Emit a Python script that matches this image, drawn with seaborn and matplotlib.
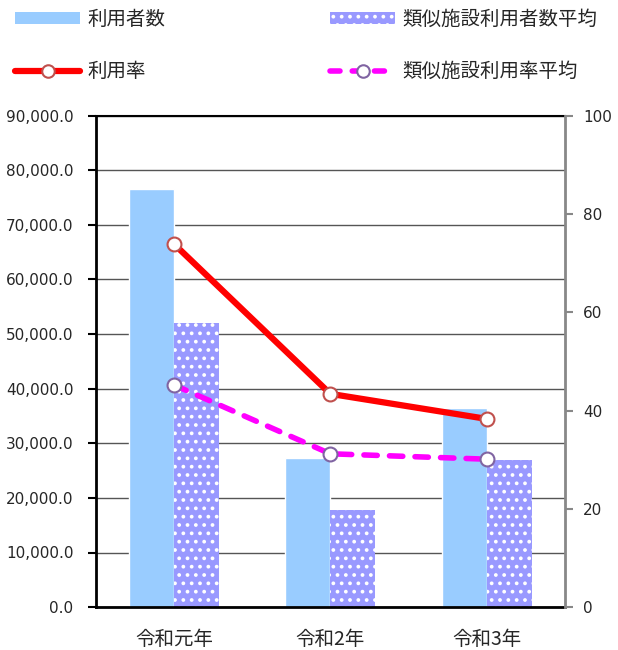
import numpy as np
import pandas as pd
import matplotlib
matplotlib.use("Agg")
import matplotlib.pyplot as plt
import matplotlib.ticker as mticker
from matplotlib.patches import Patch
from matplotlib.lines import Line2D
import seaborn as sns

# data
years = ["令和元年", "令和2年", "令和3年"]
users = [76500, 27300, 36500]
similar_users = [52100, 17800, 26900]
rate = [73.9, 43.4, 38.3]
similar_rate = [45.2, 31.2, 30.1]

sns.set_style("white")
plt.rcParams["font.family"] = ["DejaVu Sans", "Noto Sans CJK JP"]
plt.rcParams["hatch.color"] = "white"
plt.rcParams["hatch.linewidth"] = 1.5
cjk = ["Noto Sans CJK JP", "DejaVu Sans"]

df = pd.DataFrame({
    "year": years * 2,
    "value": users + similar_users,
    "series": ["利用者数"] * 3 + ["類似施設利用者数平均"] * 3,
})

fig = plt.figure(figsize=(6.18, 6.5), dpi=100)
ax = fig.add_axes([0.155, 0.066, 0.759, 0.756])

bar_colors = ["#99CCFF", "#9999FF"]
sns.barplot(data=df, x="year", y="value", hue="series", palette=bar_colors,
            width=0.576, saturation=1, legend=False, ax=ax)
for p in ax.containers[1]:
    p.set_hatch("..")
    p.set_edgecolor("white")
    p.set_linewidth(0)

ax.set_xlim(-0.5, 2.5)
ax.set_ylim(0, 90000)
ax.yaxis.set_major_locator(mticker.MultipleLocator(10000))
ax.yaxis.set_major_formatter(mticker.FuncFormatter(lambda v, _: f"{v:,.1f}"))
ax.grid(axis="y", color="#555555", linewidth=1)
ax.set_axisbelow(True)
ax.set_xlabel("")
ax.set_ylabel("")
ax.set_xticks(np.arange(len(years)))
ax.set_xticklabels(years, fontsize=14, family=cjk)
ax.set_xticks([-0.5, 0.5, 1.5, 2.5], minor=True)
ax.tick_params(axis="x", which="major", length=0, pad=16)
ax.tick_params(axis="x", which="minor", length=6, width=1.5, color="black", direction="out")
ax.tick_params(axis="y", labelsize=11, length=6, width=1.5, color="black",
               direction="out", left=True, pad=10)
ax.spines["right"].set_visible(False)
ax.spines["top"].set_color("black")
ax.spines["top"].set_linewidth(1.5)
ax.spines["left"].set_color("black")
ax.spines["left"].set_linewidth(2)
ax.spines["bottom"].set_color("black")
ax.spines["bottom"].set_linewidth(2)

ax2 = ax.twinx()
pos = np.arange(len(years))
sns.lineplot(x=pos, y=rate, color="#FF0000", linewidth=4.5, marker="o",
             markersize=10, markerfacecolor="white", markeredgecolor="#C0504D",
             markeredgewidth=1.5, ax=ax2)
sns.lineplot(x=pos, y=similar_rate, color="#FF00FF", linewidth=4, marker="o",
             markersize=10, markerfacecolor="white", markeredgecolor="#8064A2",
             markeredgewidth=1.5, ax=ax2)
ax2.lines[1].set_dashes([2.4, 2.2])
ax2.lines[1].set_dash_capstyle("round")
ax2.set_ylim(0, 100)
ax2.yaxis.set_major_locator(mticker.MultipleLocator(20))
ax2.tick_params(axis="y", labelsize=11, length=6, width=1.5, color="#888888",
                direction="out", right=True, pad=7)
for s in ["top", "left", "bottom"]:
    ax2.spines[s].set_visible(False)
ax2.spines["right"].set_color("#888888")
ax2.spines["right"].set_linewidth(2)
ax2.set_xlim(-0.5, 2.5)

h_users = Patch(facecolor=bar_colors[0], edgecolor="none")
h_rate = Line2D([], [], color="#FF0000", linewidth=4.5, marker="o", markersize=9,
                markerfacecolor="white", markeredgecolor="#C0504D", markeredgewidth=1.5)
h_sim_users = Patch(facecolor=bar_colors[1], edgecolor="white", hatch="..", linewidth=0)
h_sim_rate = Line2D([], [], color="#FF00FF", linewidth=4, marker="o", markersize=9,
                    dashes=[1.8, 2.2], dash_capstyle="round", markerfacecolor="white",
                    markeredgecolor="#8064A2", markeredgewidth=1.5)

legend_kw = dict(loc="upper left", frameon=False, handlelength=3.35,
                 handleheight=0.6, labelspacing=1.6, handletextpad=0.36,
                 borderaxespad=0, borderpad=0,
                 prop={"family": cjk, "size": 14})
fig.legend([h_users, h_rate], ["利用者数", "利用率"],
           bbox_to_anchor=(15 / 618, 1 - 9 / 650), **legend_kw)
fig.legend([h_sim_users, h_sim_rate], ["類似施設利用者数平均", "類似施設利用率平均"],
           bbox_to_anchor=(330 / 618, 1 - 9 / 650), **legend_kw)

fig.savefig("out.png", dpi=100)
